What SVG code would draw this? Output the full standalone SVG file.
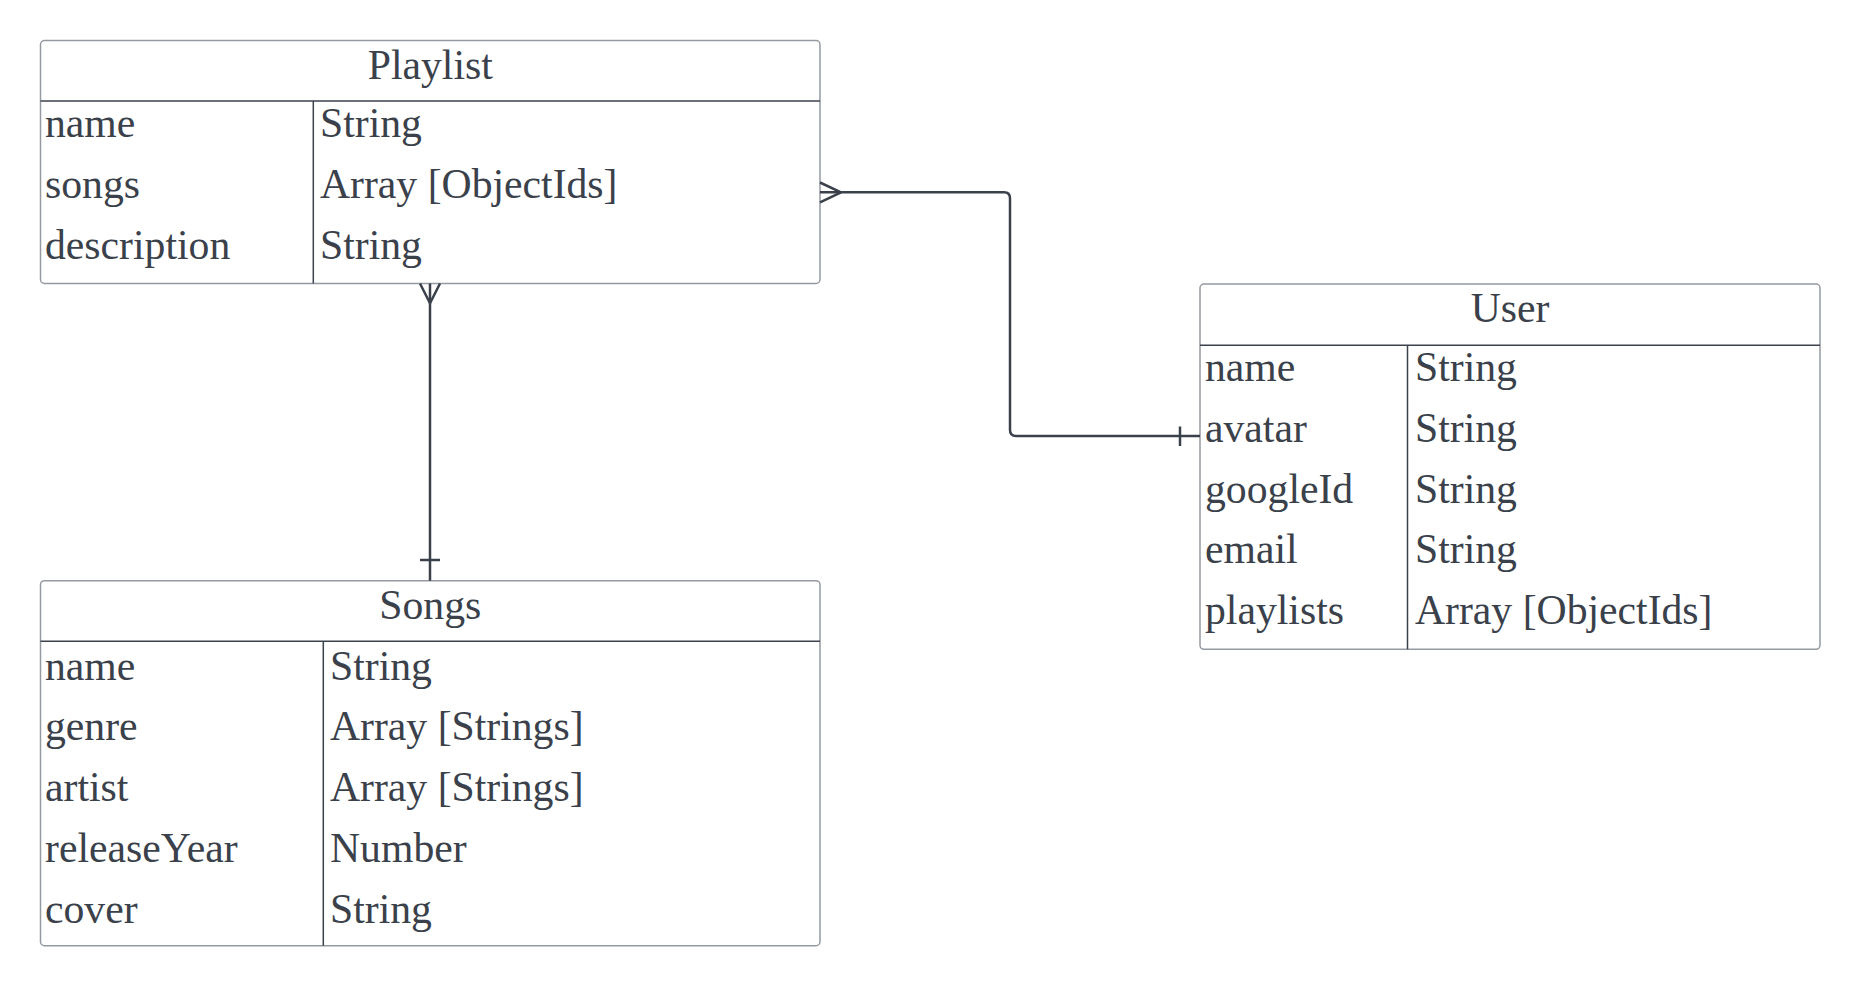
<svg xmlns="http://www.w3.org/2000/svg" width="1860" height="986" viewBox="0 0 1860 986">
<style>
.box{fill:#ffffff;stroke:#959aa1;stroke-width:1.5}
.inner{stroke:#3b424c;stroke-width:1.5;fill:none}
.t{font-family:"Liberation Serif","Times New Roman",serif;font-size:41.7px;fill:#3a414a}
.title{text-anchor:middle}
.conn{fill:none;stroke:#3a414a;stroke-width:2.5;stroke-linejoin:round}
</style>
<rect x="0" y="0" width="1860" height="986" fill="#ffffff"/>
<g id="playlist">
<rect class="box" x="40.5" y="40.5" width="779.5" height="243" rx="4"/>
<line class="inner" x1="40.5" y1="101" x2="820" y2="101"/>
<line class="inner" x1="313.3" y1="101" x2="313.3" y2="283.5"/>
<text class="t title" x="430.25" y="78.5">Playlist</text>
<text class="t" x="45" y="137">name</text>
<text class="t" x="320" y="137">String</text>
<text class="t" x="45" y="197.8">songs</text>
<text class="t" x="320" y="197.8">Array [ObjectIds]</text>
<text class="t" x="45" y="258.6">description</text>
<text class="t" x="320" y="258.6">String</text>
</g>
<g id="songs">
<rect class="box" x="40.5" y="580.7" width="779.5" height="365" rx="4"/>
<line class="inner" x1="40.5" y1="641.3" x2="820" y2="641.3"/>
<line class="inner" x1="323.3" y1="641.3" x2="323.3" y2="945.7"/>
<text class="t title" x="430.25" y="618.5">Songs</text>
<text class="t" x="45" y="679.5">name</text>
<text class="t" x="330" y="679.5">String</text>
<text class="t" x="45" y="740.3">genre</text>
<text class="t" x="330" y="740.3">Array [Strings]</text>
<text class="t" x="45" y="801.1">artist</text>
<text class="t" x="330" y="801.1">Array [Strings]</text>
<text class="t" x="45" y="861.9">releaseYear</text>
<text class="t" x="330" y="861.9">Number</text>
<text class="t" x="45" y="922.7">cover</text>
<text class="t" x="330" y="922.7">String</text>
</g>
<g id="user">
<rect class="box" x="1200" y="284" width="620" height="365.3" rx="4"/>
<line class="inner" x1="1200" y1="345.3" x2="1820" y2="345.3"/>
<line class="inner" x1="1407.5" y1="345.3" x2="1407.5" y2="649.3"/>
<text class="t title" x="1510" y="322">User</text>
<text class="t" x="1205" y="381">name</text>
<text class="t" x="1415" y="381">String</text>
<text class="t" x="1205" y="441.8">avatar</text>
<text class="t" x="1415" y="441.8">String</text>
<text class="t" x="1205" y="502.6">googleId</text>
<text class="t" x="1415" y="502.6">String</text>
<text class="t" x="1205" y="563.4">email</text>
<text class="t" x="1415" y="563.4">String</text>
<text class="t" x="1205" y="624.2">playlists</text>
<text class="t" x="1415" y="624.2">Array [ObjectIds]</text>
</g>
<g id="connectors">
<path class="conn" d="M820,192.3 H1004 Q1010,192.3 1010,198.3 V430 Q1010,436 1016,436 H1200"/>
<path class="conn" d="M820,182.5 L841,192.3 L820,202.3"/>
<line class="conn" x1="1180" y1="426.5" x2="1180" y2="446"/>
<path class="conn" d="M430,283.5 V580.7"/>
<path class="conn" d="M420,283.5 L430,303.3 L440,283.5"/>
<line class="conn" x1="420" y1="560" x2="440" y2="560"/>
</g>
</svg>
